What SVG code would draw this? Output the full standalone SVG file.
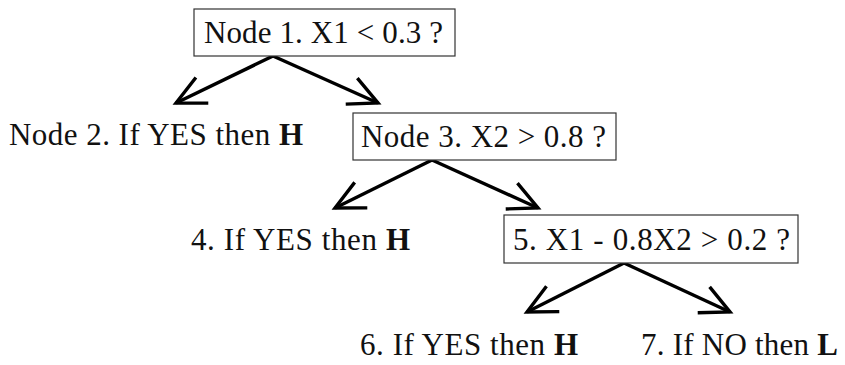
<svg xmlns="http://www.w3.org/2000/svg" width="845" height="365" viewBox="0 0 845 365">
<style>
.box{fill:#fff;stroke:#333;stroke-width:1.2}
.t{font-family:"Liberation Serif","Times New Roman",serif;font-size:31px;fill:#111}
.b{font-weight:bold}
.arr{fill:none;stroke:#000;stroke-width:3.4;marker-end:url(#ah)}
</style>
<defs>
<marker id="ah" markerUnits="userSpaceOnUse" viewBox="-40 -20 44 40" markerWidth="44" markerHeight="40" refX="0" refY="0" orient="auto" overflow="visible">
<path d="M-29,-14.2 L0,0 L-29,14.2" fill="none" stroke="#000" stroke-width="3.4"/>
</marker>
</defs>
<rect width="845" height="365" fill="#fff"/>
<g id="connectors">
<line class="arr" x1="273" y1="56" x2="176" y2="103"/>
<line class="arr" x1="273" y1="56" x2="378" y2="103"/>
<line class="arr" x1="432" y1="160" x2="335" y2="208"/>
<line class="arr" x1="432" y1="160" x2="538" y2="208"/>
<line class="arr" x1="624" y1="263" x2="527" y2="312"/>
<line class="arr" x1="624" y1="263" x2="730" y2="312"/>
</g>
<g id="node1">
<rect class="box" x="194" y="9" width="261" height="47"/>
<text class="t" x="204" y="43" textLength="239" lengthAdjust="spacing">Node 1. X1 &lt; 0.3 ?</text>
</g>
<g id="node2">
<text class="t" x="9" y="145" textLength="294" lengthAdjust="spacing">Node 2. If YES then <tspan class="b">H</tspan></text>
</g>
<g id="node3">
<rect class="box" x="353" y="113" width="263" height="47"/>
<text class="t" x="361" y="147" textLength="245" lengthAdjust="spacing">Node 3. X2 &gt; 0.8 ?</text>
</g>
<g id="node4">
<text class="t" x="191" y="250" textLength="219" lengthAdjust="spacing">4. If YES then <tspan class="b">H</tspan></text>
</g>
<g id="node5">
<rect class="box" x="504" y="215" width="294" height="48"/>
<text class="t" x="513" y="250" textLength="277" lengthAdjust="spacing">5. X1 - 0.8X2 &gt; 0.2 ?</text>
</g>
<g id="node6">
<text class="t" x="360" y="355" textLength="218" lengthAdjust="spacing">6. If YES then <tspan class="b">H</tspan></text>
</g>
<g id="node7">
<text class="t" x="641" y="355" textLength="197" lengthAdjust="spacing">7. If NO then <tspan class="b">L</tspan></text>
</g>
</svg>
